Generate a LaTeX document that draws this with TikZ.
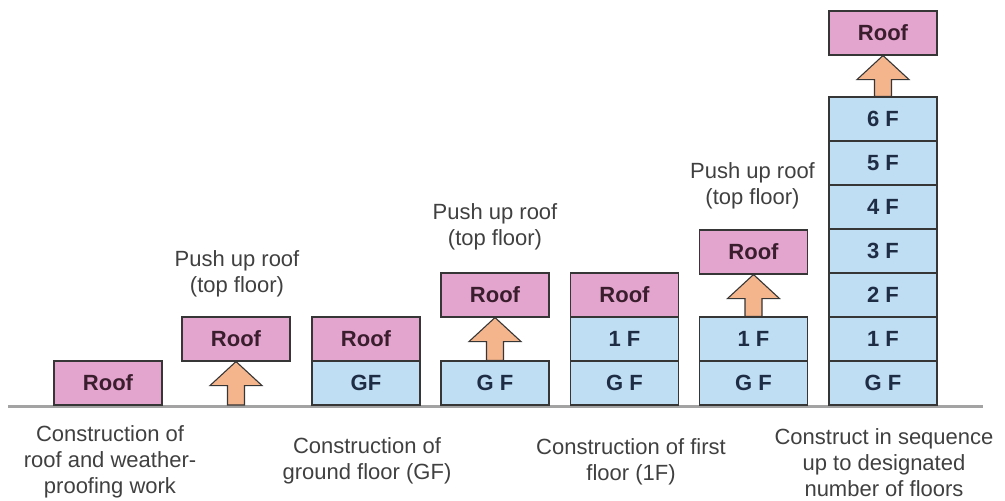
\documentclass[tikz,border=0pt]{standalone}
\usepackage{fontspec}
\setmainfont{Liberation Sans}
\usetikzlibrary{calc}

\definecolor{roofpink}{HTML}{E3A4CE}
\definecolor{floorblue}{HTML}{BFDDF3}
\definecolor{pushorange}{HTML}{F4B48C}
\definecolor{edgegray}{HTML}{363636}
\definecolor{captiongray}{HTML}{404040}
\definecolor{groundgray}{HTML}{A3A3A3}
\definecolor{rooftext}{HTML}{3A1E2E}
\definecolor{floortext}{HTML}{1E2C44}

\tikzset{
  unitbox/.style={rectangle, draw=edgegray, line width=1.1pt,
    minimum width=108pt, minimum height=44pt, inner sep=0pt,
    font=\fontsize{22}{26}\selectfont\bfseries},
  roofbox/.style={unitbox, fill=roofpink, text=rooftext},
  floorbox/.style={unitbox, fill=floorblue, text=floortext},
  caption/.style={align=center, text=captiongray, inner sep=0pt,
    font=\fontsize{22}{26}\selectfont},
  pushup/.style={fill=pushorange, draw=edgegray, line width=1.1pt, line join=miter},
}

% block arrow pushing the roof up: from base point #1 to tip point #2
\newcommand{\pusharrow}[2]{%
  \draw[pushup] let \p1=(#1), \p2=(#2) in
    (\x1-8.5pt,\y1) -- (\x1-8.5pt,\y2-24pt) -- (\x1-26pt,\y2-24pt)
    -- (\x2,\y2) -- (\x1+26pt,\y2-24pt) -- (\x1+8.5pt,\y2-24pt)
    -- (\x1+8.5pt,\y1) -- cycle;}

\begin{document}
\begin{tikzpicture}[x=1pt, y=-1pt]
\useasboundingbox (0,0) rectangle (1005,501);

% ground line
\coordinate (gl) at (8,406);
\coordinate (gr) at (983,406);
\draw[groundgray, line width=3pt] (gl) -- (gr);

% stage 1: roof and weatherproofing
\node[roofbox] (r1) at (108,383) {Roof};

% stage 2: roof pushed up
\coordinate (g2) at (236,405);
\node[roofbox] (r2) at (236,339) {Roof};
\pusharrow{g2}{r2.south}
\node[caption] (p2) at (237,273.5) {Push up roof\\(top floor)};

% stage 3: ground floor built
\node[floorbox] (gf3) at (366,383) {GF};
\node[roofbox] (r3) at (366,339) {Roof};

% stage 4: roof pushed up again
\node[floorbox] (gf4) at (495,383) {G F};
\node[roofbox] (r4) at (495,295) {Roof};
\pusharrow{gf4.north}{r4.south}
\node[caption] (p4) at (495,226.5) {Push up roof\\(top floor)};

% stage 5: first floor built
\node[floorbox] (gf5) at (624.5,383) {G F};
\node[floorbox] (f5) at (624.5,339) {1 F};
\node[roofbox] (r5) at (624.5,295) {Roof};

% stage 6: roof pushed up again
\node[floorbox] (gf6) at (753.5,383) {G F};
\node[floorbox] (f6) at (753.5,339) {1 F};
\node[roofbox] (r6) at (753.5,252) {Roof};
\pusharrow{f6.north}{r6.south}
\node[caption] (p6) at (752.5,186) {Push up roof\\(top floor)};

% stage 7: repeated up to the designated floor count
\node[floorbox] (t0) at (883,383) {G F};
\node[floorbox] (t1) at (883,339) {1 F};
\node[floorbox] (t2) at (883,295) {2 F};
\node[floorbox] (t3) at (883,251) {3 F};
\node[floorbox] (t4) at (883,207) {4 F};
\node[floorbox] (t5) at (883,163) {5 F};
\node[floorbox] (t6) at (883,119) {6 F};
\node[roofbox] (r7) at (883,33) {Roof};
\pusharrow{t6.north}{r7.south}

% captions under the ground line
\node[caption] (c1) at (110,462) {Construction of\\roof and weather-\\proofing work};
\node[caption] (c2) at (367,461) {Construction of\\ground floor (GF)};
\node[caption] (c3) at (631,462) {Construction of first\\floor (1F)};
\node[caption] (c4) at (884,463) {Construct in sequence\\up to designated\\number of floors};
\end{tikzpicture}
\end{document}
